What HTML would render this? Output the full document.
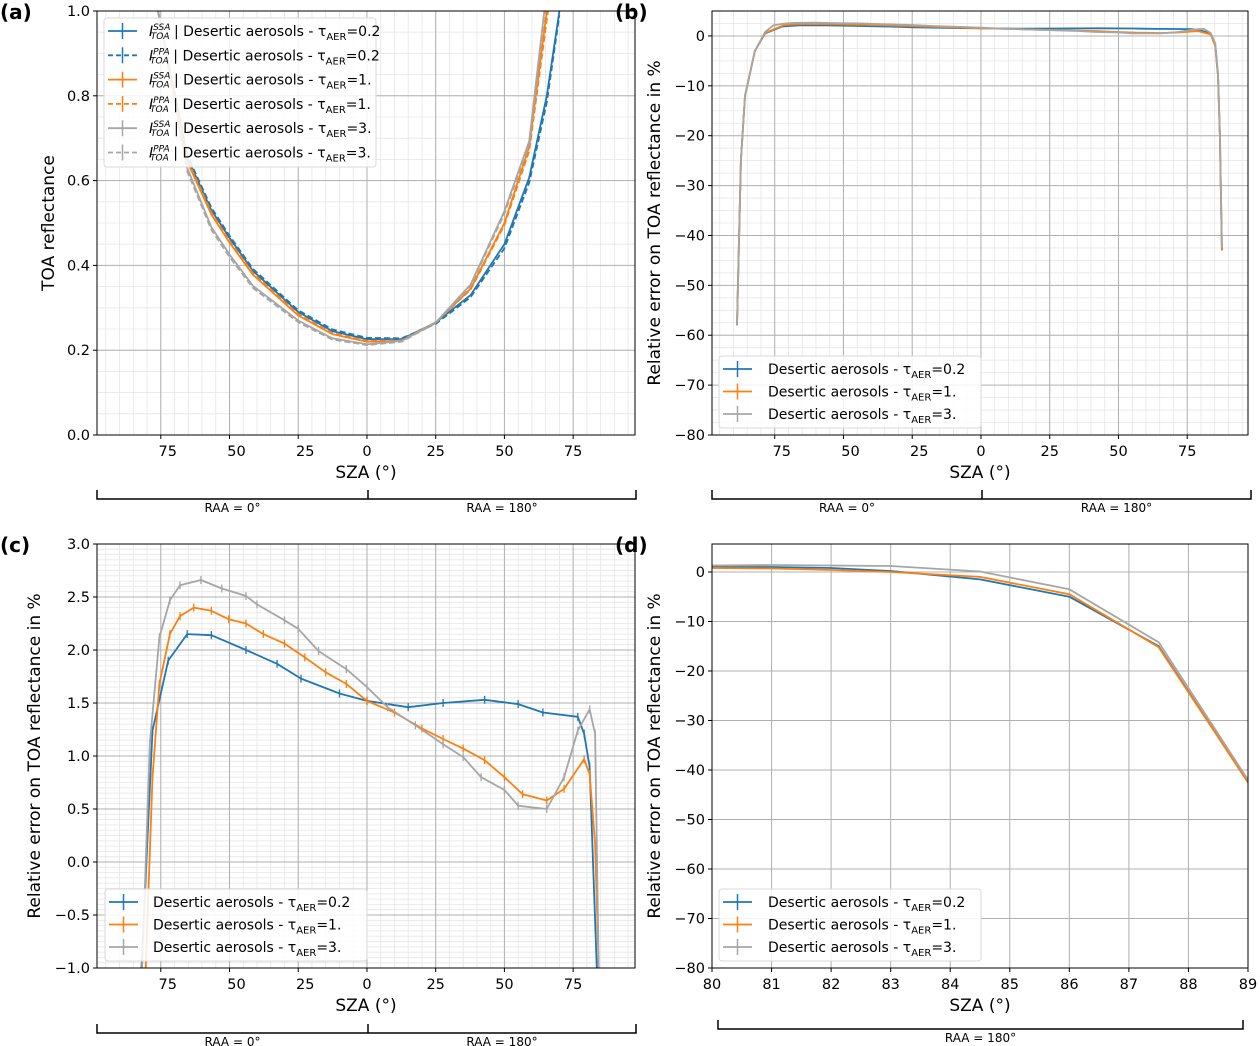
<!DOCTYPE html>
<html><head><meta charset="utf-8"><style>
body{margin:0;background:#fff;}
svg{display:block;font-family:"DejaVu Sans","Liberation Sans",sans-serif;}
</style></head><body>
<svg id="fig" width="1260" height="1046" viewBox="0 0 1260 1046" xmlns="http://www.w3.org/2000/svg"></svg>
<script>
// ===== Data =====
const aSza      = [-76, -65.4, -56.6, -50, -41.5, -25, -12.6, 0, 12.6, 25, 37.7, 50, 59, 65.4, 70];
const aBlueSsa  = [1.0, 0.654, 0.53, 0.465, 0.387, 0.29, 0.245, 0.226, 0.226, 0.265, 0.33, 0.45, 0.607, 0.8, 1.0];
const aBluePpa  = [1.0, 0.66, 0.536, 0.47, 0.392, 0.294, 0.249, 0.229, 0.228, 0.262, 0.325, 0.44, 0.595, 0.785, 0.99];
const aOrgSsa   = [1.0, 0.645, 0.52, 0.454, 0.378, 0.282, 0.238, 0.22, 0.222, 0.265, 0.345, 0.5, 0.68, 1.0, 1.2];
const aOrgPpa   = [1.0, 0.65, 0.525, 0.458, 0.382, 0.285, 0.24, 0.222, 0.223, 0.266, 0.343, 0.495, 0.67, 0.98, 1.2];
const aGrySsa   = [1.0, 0.63, 0.49, 0.426, 0.352, 0.27, 0.228, 0.214, 0.222, 0.265, 0.355, 0.528, 0.693, 1.05, 1.2];
const aGryPpa   = [1.0, 0.622, 0.484, 0.42, 0.347, 0.266, 0.225, 0.212, 0.22, 0.264, 0.352, 0.522, 0.686, 1.04, 1.2];
const aYTicks = [0.0, 0.2, 0.4, 0.6, 0.8, 1.0];
const szaTicks = [-75, -50, -25, 0, 25, 50, 75];
const szaTickLabels = ["75", "50", "25", "0", "25", "50", "75"];

const cBlueX = [-82, -78, -72.3, -65.4, -56.6, -44, -32.7, -24, -10, 0, 15, 27.7, 42.8, 55, 64, 76.7, 79, 81, 83.6];
const cBlueY = [-1, 1.24, 1.9, 2.15, 2.14, 2.0, 1.87, 1.73, 1.59, 1.52, 1.46, 1.5, 1.53, 1.49, 1.41, 1.37, 1.21, 0.9, -1];
const cOrgX = [-80.5, -78, -75.5, -71.7, -68, -63, -56.6, -50.3, -44, -37.7, -30, -22.6, -15, -7.5, 0, 10, 20, 27.7, 35, 42.8, 50, 56.6, 65.4, 71.7, 79, 81, 83, 84.3];
const cOrgY = [-1, 0.8, 1.68, 2.15, 2.32, 2.4, 2.37, 2.29, 2.25, 2.15, 2.06, 1.93, 1.79, 1.68, 1.52, 1.41, 1.26, 1.16, 1.07, 0.96, 0.8, 0.64, 0.58, 0.69, 0.97, 0.83, 0.17, -1];
const cGryX = [-81.8, -79, -75.5, -71.7, -68, -60.4, -52.8, -44, -40, -30, -25, -17.6, -7.5, 0, 7.5, 17.6, 27.7, 35, 41.5, 50, 55, 65.4, 71.7, 76.7, 81, 83, 84.3];
const cGryY = [-1, 1.11, 2.12, 2.47, 2.61, 2.66, 2.58, 2.51, 2.43, 2.28, 2.2, 1.99, 1.82, 1.65, 1.46, 1.29, 1.11, 0.99, 0.8, 0.68, 0.53, 0.5, 0.8, 1.24, 1.44, 1.21, -1];
const cYTicks = [-1.0, -0.5, 0.0, 0.5, 1.0, 1.5, 2.0, 2.5, 3.0];

const bLeftX = [-88.7, -87.3, -85.8, -82.2, -78.5];
const bLeftBlue = [-58, -25, -12, -3, 0.5];
const bLeftOrg = [-58, -25, -12, -3, 0.6];
const bLeftGry = [-58, -25, -12, -3, 0.8];
const bRightX = [83.5, 85.2, 86.2, 86.9, 87.6];
const bRightBlue = [0.5, -2, -8, -20, -43];
const bRightOrg = [0.3, -2, -8, -20, -43];
const bRightGry = [0.6, -1.5, -7.5, -19.5, -42.5];
const bYTicks = [-80, -70, -60, -50, -40, -30, -20, -10, 0];

const dX = [80, 81, 82, 83, 84.5, 86, 87.5, 89];
const dBlue = [1.0, 1.0, 0.8, 0.2, -1.5, -5.0, -15.0, -42.5];
const dOrg = [0.8, 0.7, 0.4, 0.0, -1.0, -4.5, -15.2, -42.5];
const dGry = [1.3, 1.4, 1.3, 1.2, 0.1, -3.5, -14.2, -42.0];
const dXTicks = [80, 81, 82, 83, 84, 85, 86, 87, 88, 89];

const BLUE="#1f77b4", ORG="#ff7f0e", GRY="#a6a6a6";
const NS="http://www.w3.org/2000/svg";
const svg=document.getElementById('fig');
function el(tag,attrs,parent,text){const e=document.createElementNS(NS,tag);for(const k in attrs)e.setAttribute(k,attrs[k]);if(text!==undefined)e.textContent=text;(parent||svg).appendChild(e);return e;}

function makeAxes(o){
  const g=el('g',{});
  
  
  const sx=v=>o.x0+(v-o.xmin)/(o.xmax-o.xmin)*(o.x1-o.x0);
  const sy=v=>o.y1-(v-o.ymin)/(o.ymax-o.ymin)*(o.y1-o.y0);
  const clipId='clip-'+o.name;
  const cp=el('clipPath',{id:clipId},g);
  el('rect',{x:o.x0,y:o.y0,width:o.x1-o.x0,height:o.y1-o.y0},cp);
  if(o.minorX){for(let v=Math.ceil(o.xmin/o.minorX)*o.minorX;v<=o.xmax;v+=o.minorX){const x=sx(v);el('line',{x1:x,x2:x,y1:o.y0,y2:o.y1,stroke:'#e6e6e6','stroke-width':0.8},g);}}
  if(o.minorY){for(let v=Math.ceil(o.ymin/o.minorY-1e-9)*o.minorY;v<=o.ymax+1e-9;v+=o.minorY){const y=sy(v);el('line',{x1:o.x0,x2:o.x1,y1:y,y2:y,stroke:'#e6e6e6','stroke-width':0.8},g);}}
  o.xticks.forEach((v,i)=>{const x=sx(v);
    el('line',{x1:x,x2:x,y1:o.y0,y2:o.y1,stroke:'#b0b0b0','stroke-width':1},g);
    el('line',{x1:x,x2:x,y1:o.y1,y2:o.y1+4,stroke:'#000','stroke-width':1},g);
    const off=(o.labelOff&&v<0)?o.labelOff:0;
    const t=el('text',{x:x+off,y:o.y1+21,'font-size':14.5,'text-anchor':'middle',fill:'#000'},g,o.xlabels[i]);
    
    
  });
  o.yticks.forEach(v=>{const y=sy(v);
    el('line',{x1:o.x0,x2:o.x1,y1:y,y2:y,stroke:'#b0b0b0','stroke-width':1},g);
    el('line',{x1:o.x0-4,x2:o.x0,y1:y,y2:y,stroke:'#000','stroke-width':1},g);
    const t=el('text',{x:o.x0-7,y:y+5,'font-size':14.5,'text-anchor':'end',fill:'#000'},g,o.yfmt(v));
    
    
  });
  const sg=el('g',{'clip-path':'url(#'+clipId+')'},g);
  o.series.forEach(s=>{
    const pts=s.x.map((v,i)=>sx(v).toFixed(1)+','+sy(s.y[i]).toFixed(1)).join(' ');
    const p=el('polyline',{points:pts,fill:'none',stroke:s.color,'stroke-width':1.8,'stroke-dasharray':s.dash||'none','stroke-linejoin':'round'},sg);
    
    
    if(s.marks){s.x.forEach((v,i)=>{const X=sx(v),Y=sy(s.y[i]);el('line',{x1:X,x2:X,y1:Y-4,y2:Y+4,stroke:s.color,'stroke-width':1.3},sg);});}
  });
  el('rect',{x:o.x0,y:o.y0,width:o.x1-o.x0,height:o.y1-o.y0,fill:'none',stroke:'#000','stroke-width':1},g);
  const xl=el('text',{x:(o.x0+o.x1)/2+(o.xlOff||0),y:o.y1+43,'font-size':17,'text-anchor':'middle'},g,'SZA (°)');
  
  
  const cy=(o.y0+o.y1)/2;
  const yl=el('text',{x:o.ylx,y:cy,'font-size':17,'text-anchor':'middle',transform:'rotate(-90 '+o.ylx+' '+cy+')'},g,o.ylabel);
  
  
  const pl=el('text',{x:o.letterX,y:o.y0+8,'font-size':20,'font-weight':'bold'},g,o.letter);
  
  
  const L=o.legend;
  const lg=el('g',{},g);
  
  
  el('rect',{x:L.x,y:L.y,width:L.w,height:L.h,rx:3,fill:'#fff','fill-opacity':0.85,stroke:'#d9d9d9'},lg);
  L.items.forEach((it,i)=>{const y=L.y+13+i*L.dy;
    const e=el('g',{},lg);
    
    
    el('line',{x1:L.x+4,x2:L.x+33,y1:y,y2:y,stroke:it.color,'stroke-width':1.8,'stroke-dasharray':it.dash||'none'},e);
    el('line',{x1:L.x+18.5,x2:L.x+18.5,y1:y-8,y2:y+8,stroke:it.color,'stroke-width':1.5},e);
    const t=el('text',{x:L.tx,y:y+5,'font-size':14},e);
    t.innerHTML=it.html;
  });
  return {sx,sy};
}
function tauLbl(pre,v){return pre+'Desertic aerosols - τ<tspan font-size="10" dy="4">AER</tspan><tspan dy="-4">='+v+'</tspan>';}
function iLbl(sup){return '<tspan font-style="italic">I</tspan><tspan font-style="italic" font-size="9" dy="-6">'+sup+'</tspan><tspan font-style="italic" font-size="9" dx="-19" dy="9">TOA</tspan><tspan dy="-3"> | </tspan>';}
const taus=["0.2","1.","3."];
const cols=[BLUE,ORG,GRY];

makeAxes({name:'panel-a',letter:'(a)',letterX:0,x0:97,x1:635,y0:11,y1:435,xmin:-98.2,xmax:97.5,ymin:0,ymax:1,
  xticks:szaTicks,xlabels:szaTickLabels,labelOff:7,yticks:aYTicks,yfmt:v=>v.toFixed(1),minorX:5,minorY:0.05,
  ylabel:'TOA reflectance',ylx:54,
  series:[{name:'blue-ssa',x:aSza,y:aBlueSsa,color:BLUE},{name:'blue-ppa',x:aSza,y:aBluePpa,color:BLUE,dash:'6,3'},
    {name:'orange-ssa',x:aSza,y:aOrgSsa,color:ORG},{name:'orange-ppa',x:aSza,y:aOrgPpa,color:ORG,dash:'6,3'},
    {name:'gray-ssa',x:aSza,y:aGrySsa,color:GRY},{name:'gray-ppa',x:aSza,y:aGryPpa,color:GRY,dash:'6,3'}],
  legend:{x:104,y:18,w:272,h:149,dy:24.3,tx:149,items:[0,0,1,1,2,2].map((k,i)=>({color:cols[k],dash:i%2?'5,3':null,html:tauLbl(iLbl(i%2?'PPA':'SSA'),taus[k])}))}
});
const bBX=bLeftX.concat(cBlueX.slice(2,-2),bRightX), bBY=bLeftBlue.concat(cBlueY.slice(2,-2),bRightBlue);
const bOX=bLeftX.concat(cOrgX.slice(3,-3),bRightX), bOY=bLeftOrg.concat(cOrgY.slice(3,-3),bRightOrg);
const bGX=bLeftX.concat(cGryX.slice(2,-2),bRightX), bGY=bLeftGry.concat(cGryY.slice(2,-2),bRightGry);
makeAxes({name:'panel-b',letter:'(b)',letterX:615,x0:712,x1:1248,y0:11,y1:435,xmin:-97.8,xmax:97.1,ymin:-80,ymax:5,
  xticks:szaTicks,xlabels:szaTickLabels,labelOff:7,yticks:bYTicks,yfmt:v=>v<0?'−'+(-v):''+v,minorX:5,minorY:2.5,
  ylabel:'Relative error on TOA reflectance in %',ylx:660,
  series:[{name:'blue-error',x:bBX,y:bBY,color:BLUE},{name:'orange-error',x:bOX,y:bOY,color:ORG},{name:'gray-error',x:bGX,y:bGY,color:GRY}],
  legend:{x:719,y:356,w:262,h:72,dy:22.5,tx:768,items:[0,1,2].map(k=>({color:cols[k],html:tauLbl('',taus[k])}))}
});
makeAxes({name:'panel-c',letter:'(c)',letterX:0,x0:97,x1:635,y0:544,y1:968,xmin:-98.2,xmax:97.5,ymin:-1,ymax:3,
  xticks:szaTicks,xlabels:szaTickLabels,labelOff:7,yticks:cYTicks,yfmt:v=>v<0?'−'+(-v).toFixed(1):v.toFixed(1),minorX:5,minorY:0.05,
  ylabel:'Relative error on TOA reflectance in %',ylx:40,
  series:[{name:'blue-error',x:cBlueX,y:cBlueY,color:BLUE,marks:true},{name:'orange-error',x:cOrgX,y:cOrgY,color:ORG,marks:true},{name:'gray-error',x:cGryX,y:cGryY,color:GRY,marks:true}],
  legend:{x:105,y:889,w:262,h:72,dy:22.5,tx:153,items:[0,1,2].map(k=>({color:cols[k],html:tauLbl('',taus[k])}))}
});
makeAxes({name:'panel-d',letter:'(d)',letterX:615,x0:712,x1:1248,y0:544,y1:968,xmin:80,xmax:89,ymin:-80,ymax:5.65,
  xticks:dXTicks,xlabels:dXTicks.map(String),labelOff:0,yticks:bYTicks,yfmt:v=>v<0?'−'+(-v):''+v,
  ylabel:'Relative error on TOA reflectance in %',ylx:660,
  series:[{name:'blue-error',x:dX,y:dBlue,color:BLUE},{name:'orange-error',x:dX,y:dOrg,color:ORG},{name:'gray-error',x:dX,y:dGry,color:GRY}],
  legend:{x:719,y:889,w:262,h:72,dy:22.5,tx:768,items:[0,1,2].map(k=>({color:cols[k],html:tauLbl('',taus[k])}))}
});

function bracket(x0,xm,x1,y,l1,l2){
  const g=el('g',{});
  
  
  let d='M'+x0+','+(y-9)+'V'+y+'H'+x1+'V'+(y-9);
  if(xm!==null)d+='M'+xm+','+(y-9)+'V'+y;
  el('path',{d:d,fill:'none',stroke:'#000','stroke-width':1.5},g);
  if(xm!==null){
    el('text',{x:(x0+xm)/2,y:y+13,'font-size':12,'text-anchor':'middle'},g,l1);
    el('text',{x:(xm+x1)/2,y:y+13,'font-size':12,'text-anchor':'middle'},g,l2);
  } else el('text',{x:(x0+x1)/2,y:y+13,'font-size':12,'text-anchor':'middle'},g,l2);
}
bracket(97,368,636,499,'RAA = 0°','RAA = 180°');
bracket(712,982,1251,499,'RAA = 0°','RAA = 180°');
bracket(97,368,636,1033,'RAA = 0°','RAA = 180°');
bracket(718,null,1243,1029,'','RAA = 180°');
</script>
</body></html>
